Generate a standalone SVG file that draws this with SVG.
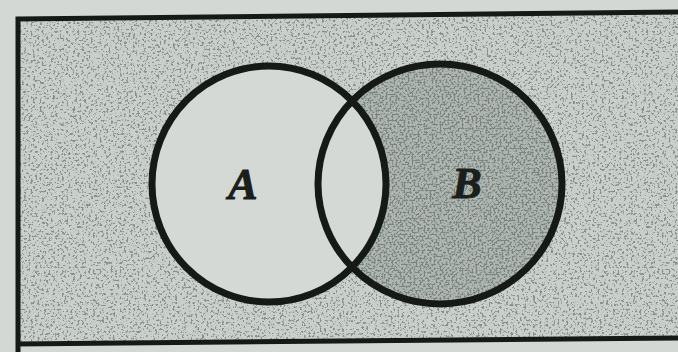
<svg xmlns="http://www.w3.org/2000/svg" width="678" height="352" viewBox="0 0 678 352">
<style>
.outline{fill:none;stroke:#151a17;stroke-width:7}
.frame{fill:none;stroke:#151a17;stroke-width:5;stroke-linecap:square}
.lbl{font-family:"Liberation Serif",serif;font-weight:bold;font-style:italic;font-size:44px;fill:#1a1f1c;stroke:#1a1f1c;stroke-width:1;text-anchor:middle}
</style>
<defs>
<filter id="specklight" x="0" y="0" width="100%" height="100%">
<feTurbulence type="fractalNoise" baseFrequency="0.45" numOctaves="2" seed="4" result="n"/>
<feColorMatrix in="n" type="matrix" values="0 0 0 0 0.25  0 0 0 0 0.28  0 0 0 0 0.26  10 0 0 0 -5.6" result="d"/>
<feComposite in="d" in2="SourceAlpha" operator="in"/>
</filter>
<filter id="speckdark" x="0" y="0" width="100%" height="100%">
<feTurbulence type="fractalNoise" baseFrequency="0.5" numOctaves="2" seed="9" result="n"/>
<feColorMatrix in="n" type="matrix" values="0 0 0 0 0.2  0 0 0 0 0.23  0 0 0 0 0.21  10 0 0 0 -4.8" result="d"/>
<feComposite in="d" in2="SourceAlpha" operator="in"/>
</filter>
</defs>
<rect x="0" y="0" width="678" height="352" fill="#d3d8d4"/>
<g id="universe">
<polygon points="18,19 678,12 678,338 18,344" fill="#c9cfcb"/>
<polygon points="18,19 678,12 678,338 18,344" fill="#000" filter="url(#specklight)"/>
</g>
<g id="setB">
<ellipse cx="440" cy="184" rx="122" ry="120" fill="#b1b8b3"/>
<ellipse cx="440" cy="184" rx="122" ry="120" fill="#000" filter="url(#speckdark)"/>
</g>
<g id="setA">
<ellipse cx="269" cy="184" rx="117" ry="118" fill="#d4d9d5"/>
</g>
<g id="outlines">
<ellipse class="outline" cx="269" cy="184" rx="117" ry="118"/>
<ellipse class="outline" cx="440" cy="184" rx="122" ry="120"/>
<path class="frame" d="M18,19 L678,12 M18,19 L18,352 M18,344 L678,338"/>
</g>
<g id="labels">
<text class="lbl" x="243" y="199">A</text>
<text class="lbl" x="467" y="198">B</text>
</g>
</svg>
